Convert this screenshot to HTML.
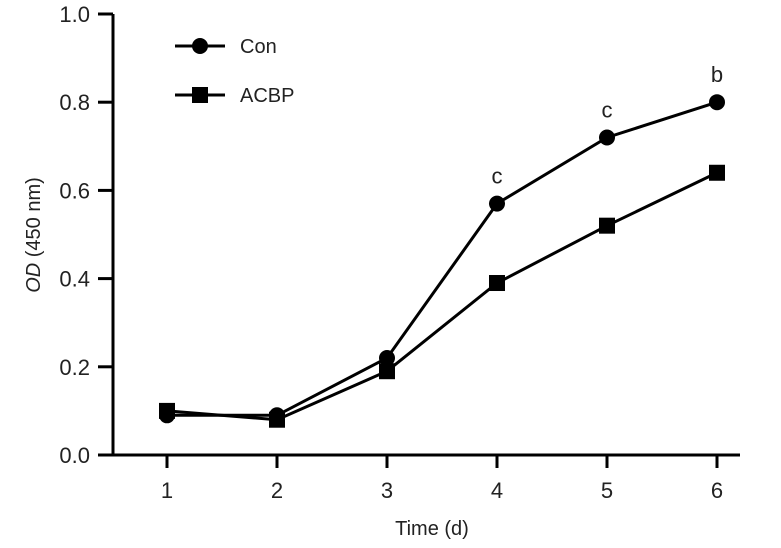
<!DOCTYPE html>
<html><head><meta charset="utf-8"><style>
body{margin:0;background:#fff}
svg{display:block;font-family:"Liberation Sans",sans-serif}
</style></head><body>
<svg width="781" height="548">
<g id="axes"></g><g id="plot"></g>
</svg>
<script>
const days=[1,2,3,4,5,6];
const conVals=[0.09,0.09,0.22,0.57,0.72,0.80];
const acbpVals=[0.10,0.08,0.19,0.39,0.52,0.64];
const sigLabels=["","","","c","c","b"];
const yTicks=["0.0","0.2","0.4","0.6","0.8","1.0"];
const xTicks=["1","2","3","4","5","6"];
const NS="http://www.w3.org/2000/svg";
const X=d=>167+(d-1)*110;
const Y=v=>455-v*441;
function mk(t,a,p){const e=document.createElementNS(NS,t);for(const k in a)e.setAttribute(k,a[k]);p.appendChild(e);return e;}
const ax=document.getElementById('axes'),pl=document.getElementById('plot');
let e=mk('line',{x1:113,y1:Y(1),x2:113,y2:456,stroke:'#000','stroke-width':3},ax);


e=mk('line',{x1:98,y1:455,x2:740,y2:455,stroke:'#000','stroke-width':3},ax);


yTicks.forEach(t=>{const v=parseFloat(t);
mk('line',{x1:98,y1:Y(v),x2:113,y2:Y(v),stroke:'#000','stroke-width':3},ax);
const tx=mk('text',{x:90,y:Y(v)+8,'text-anchor':'end','font-size':22,fill:'#222'},ax);tx.textContent=t;

});
xTicks.forEach(t=>{const d=+t;
mk('line',{x1:X(d),y1:455,x2:X(d),y2:468,stroke:'#000','stroke-width':3},ax);
const tx=mk('text',{x:X(d),y:498,'text-anchor':'middle','font-size':22,fill:'#222'},ax);tx.textContent=t;

});
let xt=mk('text',{x:432,y:535,'text-anchor':'middle','font-size':20,fill:'#222'},ax);xt.textContent='Time (d)';


let yt=mk('text',{x:0,y:0,transform:'translate(40,235) rotate(-90)','text-anchor':'middle','font-size':20,fill:'#222'},ax);
yt.innerHTML='<tspan font-style="italic">OD</tspan> (450 nm)';


function series(vals,shape,name){
const pts=days.map((d,i)=>X(d)+','+Y(vals[i])).join(' ');
const l=mk('polyline',{points:pts,fill:'none',stroke:'#000','stroke-width':3},pl);


days.forEach((d,i)=>{let m;
if(shape==='c')m=mk('circle',{cx:X(d),cy:Y(vals[i]),r:8,fill:'#000'},pl);
else m=mk('rect',{x:X(d)-8,y:Y(vals[i])-8,width:16,height:16,fill:'#000'},pl);

});}
series(acbpVals,'s','acbp');
series(conVals,'c','con');
days.forEach((d,i)=>{if(!sigLabels[i])return;
const t=mk('text',{x:X(d),y:Y(conVals[i])-20,'text-anchor':'middle','font-size':22,fill:'#222'},pl);t.textContent=sigLabels[i];

});
// legend
[[ 'Con','c',46],['ACBP','s',95]].forEach(([n,s,y])=>{
mk('line',{x1:175,y1:y,x2:225,y2:y,stroke:'#000','stroke-width':3},pl);
const m=s==='c'?mk('circle',{cx:200,cy:y,r:8,fill:'#000'},pl):mk('rect',{x:192,y:y-8,width:16,height:16,fill:'#000'},pl);


const t=mk('text',{x:240,y:y+7,'font-size':20,fill:'#222'},pl);t.textContent=n;

});
</script>
</body></html>
